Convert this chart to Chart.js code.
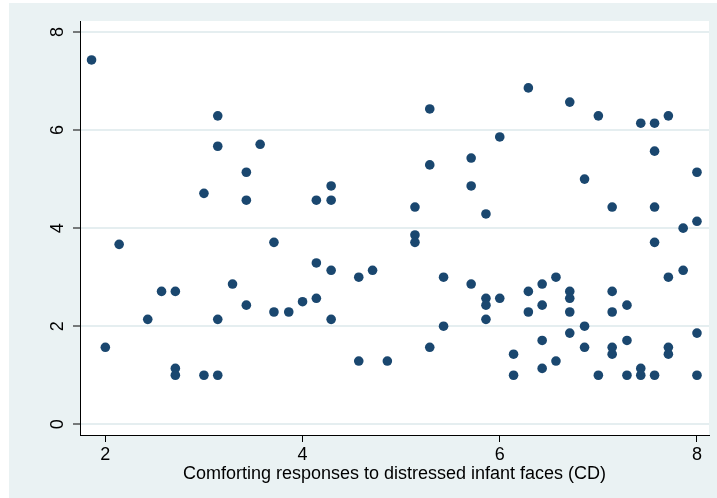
<!DOCTYPE html>
<html>
<head>
<meta charset="utf-8">
<title>Comforting responses scatter</title>
<script src="https://cdn.jsdelivr.net/npm/chart.js@4.4.1/dist/chart.umd.min.js"></script>
<style>
	html, body { margin: 0; padding: 0; background: #fff; }
	#scatter-chart { display: block; }
</style>
</head>
<body>
<canvas id="scatter-chart" width="717" height="498"></canvas>
<script>
// Comforting responses (CD), x values
const comfortCD = [
	1.86, 2.00, 2.14, 2.43, 2.57, 2.71, 2.71, 2.71, 3.00, 3.00,
	3.14, 3.14, 3.14, 3.14, 3.29, 3.43, 3.43, 3.43, 3.57, 3.71,
	3.71, 3.86, 4.00, 4.14, 4.14, 4.14, 4.29, 4.29, 4.29, 4.29,
	4.57, 4.57, 4.71, 4.86, 5.14, 5.14, 5.14, 5.29, 5.29, 5.29,
	5.43, 5.43, 5.71, 5.71, 5.71, 5.86, 5.86, 5.86, 5.86, 6.00,
	6.00, 6.14, 6.14, 6.29, 6.29, 6.29, 6.43, 6.43, 6.43, 6.43,
	6.57, 6.57, 6.71, 6.71, 6.71, 6.71, 6.71, 6.86, 6.86, 6.86,
	7.00, 7.00, 7.14, 7.14, 7.14, 7.14, 7.14, 7.29, 7.29, 7.29,
	7.43, 7.43, 7.43, 7.57, 7.57, 7.57, 7.57, 7.57, 7.71, 7.71,
	7.71, 7.71, 7.86, 7.86, 8.00, 8.00, 8.00, 8.00,
];

// y values, same order
const yValues = [
	7.43, 1.57, 3.67, 2.14, 2.71, 2.71, 1.14, 1.00, 4.71, 1.00,
	6.29, 5.67, 2.14, 1.00, 2.86, 5.14, 4.57, 2.43, 5.71, 3.71,
	2.29, 2.29, 2.50, 4.57, 3.29, 2.57, 4.86, 4.57, 3.14, 2.14,
	3.00, 1.29, 3.14, 1.29, 4.43, 3.86, 3.71, 6.43, 5.29, 1.57,
	3.00, 2.00, 5.43, 4.86, 2.86, 4.29, 2.57, 2.43, 2.14, 5.86,
	2.57, 1.43, 1.00, 6.86, 2.71, 2.29, 2.86, 2.43, 1.71, 1.14,
	3.00, 1.29, 6.57, 2.71, 2.57, 2.29, 1.86, 5.00, 2.00, 1.57,
	6.29, 1.00, 4.43, 2.71, 2.29, 1.57, 1.43, 2.43, 1.71, 1.00,
	6.14, 1.14, 1.00, 6.14, 5.57, 4.43, 3.71, 1.00, 6.29, 3.00,
	1.57, 1.43, 4.00, 3.14, 5.14, 4.14, 1.86, 1.00,
];

const xTicks = [2, 4, 6, 8];
const yTicks = [0, 2, 4, 6, 8];
const xTitle = 'Comforting responses to distressed infant faces (CD)';

const font = { family: '"Liberation Sans", Arial, sans-serif', size: 18 };

// stata-like backgrounds: outer light blue, white plot region
const backgroundPlugin = {
	id: 'stataBackground',
	beforeDraw: (chart) => {
		const ctx = chart.ctx;
		const area = chart.chartArea;
		ctx.save();
		ctx.fillStyle = '#ffffff';
		ctx.fillRect(0, 0, chart.width, chart.height);
		ctx.fillStyle = '#eaf2f3';
		ctx.fillRect(9, 3, chart.width - 9, chart.height - 3);
		ctx.fillStyle = '#ffffff';
		ctx.fillRect(area.left, area.top, area.right - area.left, area.bottom - area.top);
		ctx.restore();
	},
};

const points = comfortCD.map((x, i) => ({ x: x, y: yValues[i] }));

const ctx = document.getElementById('scatter-chart');

new Chart(ctx, {
	type: 'scatter',
	data: {
		datasets: [
			{
				data: points,
				backgroundColor: '#1a476f',
				borderColor: '#1a476f',
				borderWidth: 0,
				pointRadius: 4.8,
				pointHoverRadius: 4.8,
			},
		],
	},
	options: {
		responsive: false,
		animation: false,
		devicePixelRatio: 1,
		layout: { padding: { left: 0, top: 21, right: 8, bottom: 0 } },
		plugins: {
			legend: { display: false },
			tooltip: { enabled: false },
		},
		scales: {
			x: {
				type: 'linear',
				min: 1.743,
				max: 8.122,
				afterBuildTicks: (scale) => {
					scale.ticks = xTicks.map((v) => ({ value: v }));
				},
				afterFit: (scale) => {
					scale.height = 63;
				},
				grid: {
					drawOnChartArea: false,
					tickColor: '#000',
					tickLength: 7,
					tickWidth: 1,
				},
				border: { display: true, color: '#000', width: 1 },
				ticks: {
					color: '#000',
					font: font,
					padding: 2,
					maxRotation: 0,
					minRotation: 0,
				},
				title: {
					display: true,
					text: xTitle,
					color: '#000',
					font: font,
					padding: { top: 13, bottom: 13 },
				},
			},
			y: {
				type: 'linear',
				min: -0.218,
				max: 8.224,
				afterBuildTicks: (scale) => {
					scale.ticks = yTicks.map((v) => ({ value: v }));
				},
				afterFit: (scale) => {
					scale.width = 80;
				},
				grid: {
					color: '#e5eef0',
					lineWidth: 2,
					tickColor: '#000',
					tickLength: 7,
					tickWidth: 1,
				},
				border: { display: true, color: '#000', width: 1 },
				ticks: {
					color: '#000',
					font: font,
					padding: 9.5,
					minRotation: 90,
					maxRotation: 90,
					crossAlign: 'center',
				},
			},
		},
	},
	plugins: [backgroundPlugin],
});
</script>
</body>
</html>
